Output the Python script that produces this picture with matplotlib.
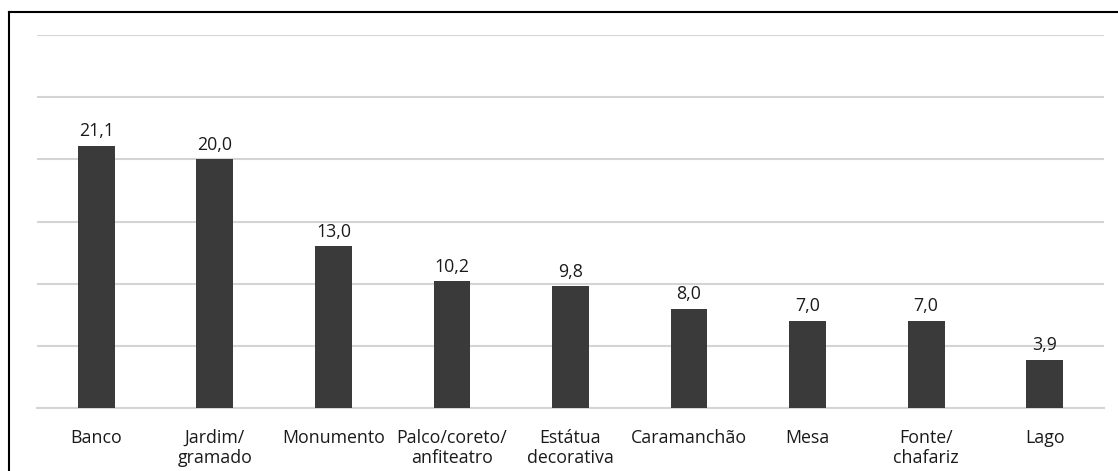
import matplotlib
matplotlib.use("Agg")
import matplotlib.pyplot as plt
from matplotlib.lines import Line2D

categories = ["Banco", "Jardim/\ngramado", "Monumento", "Palco/coreto/\nanfiteatro",
              "Estátua\ndecorativa", "Caramanchão", "Mesa", "Fonte/\nchafariz", "Lago"]
values = [21.1, 20.0, 13.0, 10.2, 9.8, 8.0, 7.0, 7.0, 3.9]
labels = ["21,1", "20,0", "13,0", "10,2", "9,8", "8,0", "7,0", "7,0", "3,9"]

plt.rcParams["font.family"] = ["Open Sans", "DejaVu Sans"]

W, H = 1118, 471
fig = plt.figure(figsize=(W / 100, H / 100), dpi=100)
ax = fig.add_axes([37 / W, (H - 408) / H, (1104 - 37) / W, (408 - 35) / H])

x = range(len(categories))
ax.bar(x, values, width=0.31, color="#3a3a3a", zorder=3)
for xi, v, t in zip(x, values, labels):
    ax.annotate(t, (xi, v), xytext=(0, 4), textcoords="offset points",
                ha="center", va="bottom", fontsize=12.8, color="#1a1a1a")

ax.set_xlim(-0.5, len(categories) - 0.5)
ax.set_ylim(0, 30)
ax.set_yticks([0, 5, 10, 15, 20, 25, 30])
ax.yaxis.grid(True, color="#d4d4d4", linewidth=1.5, zorder=0)
ax.tick_params(axis="y", left=False, labelleft=False)
ax.tick_params(axis="x", length=0, pad=15)
ax.set_xticks(list(x))
ax.set_xticklabels(categories, fontsize=12.8, color="#1a1a1a", linespacing=1.15)
for s in ["top", "right", "left"]:
    ax.spines[s].set_visible(False)
ax.spines["bottom"].set_color("#d4d4d4")
ax.spines["bottom"].set_linewidth(1.5)

# outer frame (only top and left edges visible)
fig.add_artist(Line2D([9 / W, 1], [1 - 12 / H, 1 - 12 / H], color="black", linewidth=1.5))
fig.add_artist(Line2D([9 / W, 9 / W], [0, 1 - 12 / H], color="black", linewidth=1.5))

fig.savefig("out.png", dpi=100)
